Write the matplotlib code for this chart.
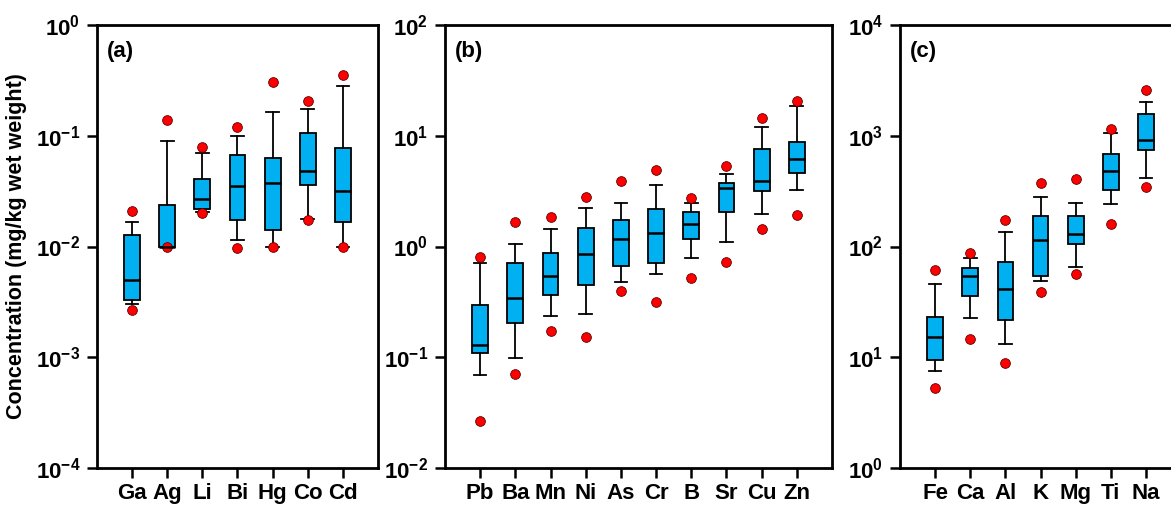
import numpy as np
import matplotlib.pyplot as plt

plt.rcParams['font.family'] = ['Liberation Sans', 'DejaVu Sans']
plt.rcParams['font.weight'] = 'bold'
plt.rcParams['mathtext.fontset'] = 'custom'
plt.rcParams['mathtext.rm'] = 'Liberation Sans:bold'
plt.rcParams['mathtext.bf'] = 'Liberation Sans:bold'
plt.rcParams['mathtext.default'] = 'bf'
plt.rcParams['axes.unicode_minus'] = False

# panel (a)
elem_a = ['Ga', 'Ag', 'Li', 'Bi', 'Hg', 'Co', 'Cd']
whislo_a = [0.0030, 0.010, 0.0204, 0.0115, 0.0100, 0.0179, 0.0100]
q1_a = [0.00327, 0.010, 0.0216, 0.0174, 0.0140, 0.0356, 0.0167]
med_a = [0.00503, 0.010, 0.0270, 0.0351, 0.0371, 0.0483, 0.0316]
q3_a = [0.0126, 0.0236, 0.0406, 0.0664, 0.0633, 0.106, 0.078]
whishi_a = [0.0165, 0.089, 0.0697, 0.0993, 0.165, 0.174, 0.281]
outlo_a = [0.00266, 0.010, 0.0199, 0.0098, 0.0100, 0.0173, 0.0100]
outhi_a = [0.0211, 0.139, 0.080, 0.119, 0.305, 0.207, 0.353]

# panel (b)
elem_b = ['Pb', 'Ba', 'Mn', 'Ni', 'As', 'Cr', 'B', 'Sr', 'Cu', 'Zn']
whislo_b = [0.0697, 0.0986, 0.234, 0.245, 0.483, 0.566, 0.785, 1.09, 1.95, 3.27]
q1_b = [0.109, 0.206, 0.363, 0.451, 0.668, 0.711, 1.16, 2.03, 3.16, 4.60]
med_b = [0.130, 0.343, 0.547, 0.853, 1.16, 1.32, 1.60, 3.39, 3.87, 6.20]
q3_b = [0.297, 0.716, 0.877, 1.48, 1.72, 2.16, 2.03, 3.73, 7.58, 8.83]
whishi_b = [0.716, 1.05, 1.45, 2.24, 2.48, 3.63, 2.48, 4.51, 11.9, 18.4]
outlo_b = [0.0266, 0.070, 0.174, 0.151, 0.40, 0.318, 0.518, 0.726, 1.43, 1.92]
outhi_b = [0.80, 1.65, 1.84, 2.81, 3.89, 4.90, 2.74, 5.36, 14.5, 20.4]

# panel (c)
elem_c = ['Fe', 'Ca', 'Al', 'K', 'Mg', 'Ti', 'Na']
whislo_c = [7.47, 22.7, 13.1, 48.9, 65.9, 240, 420]
q1_c = [9.53, 36.1, 21.7, 54.3, 105, 325, 742]
med_c = [15.2, 54.3, 41.4, 114, 129, 480, 914]
q3_c = [23.1, 64.6, 72.8, 187, 188, 683, 1560]
whishi_c = [46.0, 78.5, 136, 279, 248, 1064, 2016]
outlo_c = [5.32, 14.7, 8.9, 38.9, 56.2, 159, 346]
outhi_c = [61.1, 87.1, 174, 373, 406, 1156, 2570]

fig = plt.figure(figsize=(11.71, 5.08), dpi=100)

def make_stats(wl, q1, med, q3, wh, ol, oh):
    stats = []
    for i in range(len(med)):
        stats.append({'whislo': wl[i], 'q1': q1[i], 'med': med[i], 'q3': q3[i],
                      'whishi': wh[i], 'fliers': [ol[i], oh[i]]})
    return stats

def panel(rect, names, stats, ylim, tag, xmax, ylabel=None):
    ax = fig.add_axes(rect)
    pos = np.arange(1, len(names) + 1)
    ax.bxp(stats, positions=pos, widths=0.45, capwidths=0.36, patch_artist=True,
           boxprops=dict(facecolor='#00b0f0', edgecolor='black', linewidth=1.3),
           medianprops=dict(color='black', linewidth=1.8),
           whiskerprops=dict(color='black', linewidth=1.3),
           capprops=dict(color='black', linewidth=1.3),
           flierprops=dict(marker='o', markerfacecolor='#ff0000', markeredgecolor='#5a0000',
                           markersize=7, markeredgewidth=0.6, linestyle='none'))
    ax.set_yscale('log')
    ax.set_ylim(ylim)
    ax.set_xlim(0, xmax)
    ax.set_xticks(pos)
    ax.set_xticklabels(names)
    ax.minorticks_off()
    ax.yaxis.set_major_locator(plt.LogLocator(base=10, numticks=10))
    ax.tick_params(axis='both', direction='out', length=7, width=1.8, labelsize=16)
    ax.tick_params(axis='x', pad=4)
    ax.tick_params(axis='y', pad=5)
    for s in ax.spines.values():
        s.set_linewidth(2.0)
    ax.text(10 / (rect[2] * 1171), 0.965, tag, transform=ax.transAxes, ha='left', va='top',
            fontsize=16, fontweight='bold')
    if ylabel:
        ax.set_ylabel(ylabel, fontsize=15.5, fontweight='bold', labelpad=6)
    return ax

H = 0.872
B = 0.0787
panel([0.0828, B, 0.240, H], elem_a,
      make_stats(whislo_a, q1_a, med_a, q3_a, whishi_a, outlo_a, outhi_a),
      (1e-4, 1e0), '(a)', 8, 'Concentration (mg/kg wet weight)')
panel([0.380, B, 0.3305, H], elem_b,
      make_stats(whislo_b, q1_b, med_b, q3_b, whishi_b, outlo_b, outhi_b),
      (1e-2, 1e2), '(b)', 11)
panel([0.7686, B, 0.260, H], elem_c,
      make_stats(whislo_c, q1_c, med_c, q3_c, whishi_c, outlo_c, outhi_c),
      (1e0, 1e4), '(c)', 8 * 0.260 / 0.240)

fig.savefig('out.png', dpi=100)
